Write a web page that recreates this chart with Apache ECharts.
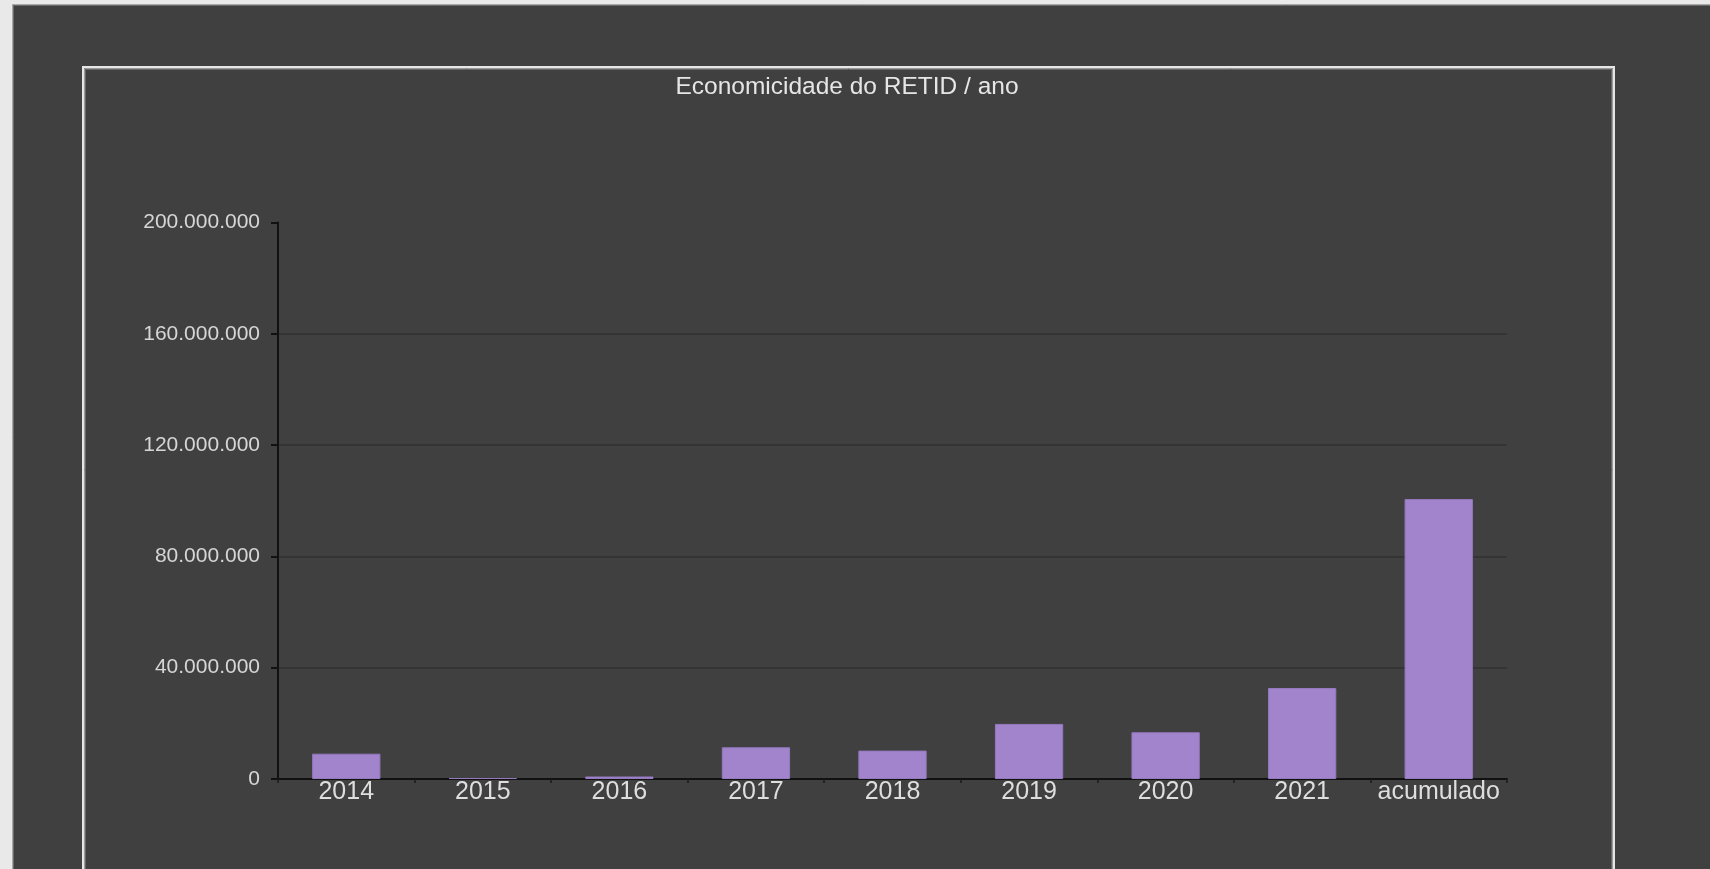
<!DOCTYPE html>
<html>
<head>
<meta charset="utf-8">
<script src="https://cdn.jsdelivr.net/npm/echarts@6/dist/echarts.min.js"></script>
<style>
  html, body { margin: 0; padding: 0; background: #e9e9e9; overflow: hidden; }
  #chart { position: absolute; left: 0; top: 0; width: 1710px; height: 869px; }
</style>
</head>
<body>
<div id="chart"></div>
<script>
// ---- data ----
const titleText = 'Economicidade do RETID / ano';
const categories = ['2014', '2015', '2016', '2017', '2018', '2019', '2020', '2021', 'acumulado'];
const values = [9100000, 350000, 900000, 11400000, 10200000, 19800000, 16800000, 32700000, 100600000];
const yTicks = [0, 40000000, 80000000, 120000000, 160000000, 200000000];

function fmt(v) {
  return String(Math.round(v)).replace(/\B(?=(\d{3})+(?!\d))/g, '.');
}

const chart = echarts.init(document.getElementById('chart'), null, { renderer: 'canvas', width: 1710, height: 869 });

const font = "'Liberation Sans', Arial, Helvetica, sans-serif";

chart.setOption({
  backgroundColor: 'transparent',
  animation: false,
  graphic: [
    // outer dark panel
    { type: 'rect', z: -10, shape: { x: 12.5, y: 4.5, width: 1720, height: 880 },
      style: { fill: '#404040', stroke: '#a8a8a8', lineWidth: 1 } },
    { type: 'rect', z: -9, shape: { x: 13.5, y: 5.5, width: 1720, height: 880 },
      style: { fill: 'none', stroke: '#6a6a6a', lineWidth: 1 } },
    // inner framed box
    { type: 'rect', z: -8, shape: { x: 83, y: 67, width: 1531, height: 860 },
      style: { fill: '#404040', stroke: '#e6e6e6', lineWidth: 2 } },
    { type: 'rect', z: -7, shape: { x: 84.5, y: 68.5, width: 1528, height: 860 },
      style: { fill: 'none', stroke: '#9a9a9a', lineWidth: 1 } },
    { type: 'rect', z: -7, shape: { x: 85.5, y: 69.5, width: 1526, height: 860 },
      style: { fill: 'none', stroke: '#666666', lineWidth: 1 } }
  ],
  title: {
    text: titleText,
    left: 842,
    top: 70,
    textAlign: 'center',
    textStyle: { color: '#e6e6e6', fontSize: 24.5, fontWeight: 'normal', fontFamily: font }
  },
  grid: { left: 278, right: 203, top: 222.5, bottom: 90, containLabel: false },
  xAxis: {
    type: 'category',
    data: categories,
    axisLine: { show: true, lineStyle: { color: '#111111', width: 2 } },
    axisTick: { show: true, length: 4, lineStyle: { color: '#1a1a1a', width: 1.5 } },
    axisLabel: { color: '#dedede', fontSize: 25, fontFamily: font, margin: 1, interval: 0 },
    splitLine: { show: false }
  },
  yAxis: {
    type: 'value',
    min: yTicks[0],
    max: yTicks[yTicks.length - 1],
    interval: yTicks[1] - yTicks[0],
    axisLine: { show: true, lineStyle: { color: '#111111', width: 2 } },
    axisTick: { show: true, length: 7, lineStyle: { color: '#111111', width: 2 } },
    axisLabel: { color: '#d6d6d6', fontSize: 21, fontFamily: font, margin: 18, formatter: fmt },
    splitLine: { show: true, showMinLine: false, showMaxLine: false, lineStyle: { color: '#343434', width: 2 } }
  },
  series: [{
    type: 'bar',
    data: values,
    barWidth: '50%',
    itemStyle: { color: '#a284cc', borderColor: '#9479bf', borderWidth: 1 }
  }]
});
</script>
</body>
</html>
